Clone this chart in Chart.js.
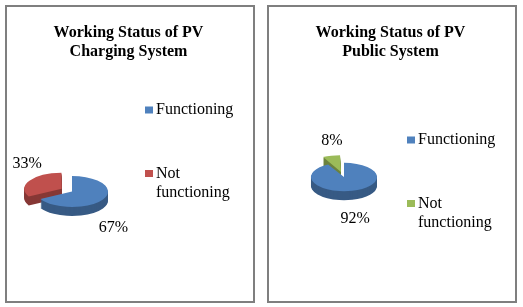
<!DOCTYPE html>
<html lang="en">
<head>
<meta charset="UTF-8">
<title>Working Status of PV Systems</title>
<script src="https://cdn.jsdelivr.net/npm/chart.js"></script>
<style>
    body {
        margin: 0;
        background: #fff;
    }
    .panel {
        position: absolute;
        top: 5px;
        width: 250px;
        height: 298px;
        border: 2px solid #7f7f7f;
        box-sizing: border-box;
    }
    #panel1 { left: 5px; }
    #panel2 { left: 267px; }
    canvas { display: block; }
</style>
</head>
<body>
<div class="panel" id="panel1"><canvas id="chargingChart" width="246" height="294"></canvas></div>
<div class="panel" id="panel2"><canvas id="publicChart" width="246" height="294"></canvas></div>

<script>
// data
const statusLabels = ['Functioning', 'Not functioning'];

const chargingTitle = ['Working Status of PV', 'Charging System'];
const chargingValues = [67, 33];

const publicTitle = ['Working Status of PV', 'Public System'];
const publicValues = [92, 8];

const SERIF = '"Liberation Serif", "Times New Roman", serif';

// squash the pie vertically around its centre
function tilt(ctx, cx, cy, k) {
    ctx.translate(cx, cy);
    ctx.scale(1, k);
    ctx.translate(-cx, -cy);
}

// fake 3D: stacked darker copies under the pie, then the pie itself squashed
const tiltPlugin = {
    id: 'tilt3d',
    beforeDatasetsDraw(chart, args, opts) {
        const ctx = chart.ctx;
        const arcs = chart.getDatasetMeta(0).data;
        const cx = arcs[0].x, cy = arcs[0].y;
        for (let d = opts.depth; d > 0; d--) {
            ctx.save();
            ctx.filter = 'brightness(' + opts.shade + ')';
            ctx.translate(0, d);
            tilt(ctx, cx, cy, opts.ratio);
            arcs.forEach(a => a.draw(ctx));
            ctx.restore();
        }
        ctx.save();
        tilt(ctx, cx, cy, opts.ratio);
    },
    afterDatasetsDraw(chart) {
        chart.ctx.restore();
    }
};

function wrapWords(ctx, text, maxW) {
    const words = text.split(' ');
    const lines = [];
    let line = '';
    words.forEach(w => {
        const test = line ? line + ' ' + w : w;
        if (line && ctx.measureText(test).width > maxW) {
            lines.push(line);
            line = w;
        } else {
            line = test;
        }
    });
    lines.push(line);
    return lines;
}

// title, legend and percent labels
const textPlugin = {
    id: 'panelText',
    afterDraw(chart, args, opts) {
        const ctx = chart.ctx;
        const ds = chart.data.datasets[0];
        const arcs = chart.getDatasetMeta(0).data;
        const tilt3d = chart.options.plugins.tilt3d;
        ctx.save();
        ctx.fillStyle = '#000';
        ctx.textBaseline = 'middle';

        // title
        ctx.font = 'bold 16px ' + SERIF;
        ctx.textAlign = 'center';
        opts.title.forEach((t, i) => ctx.fillText(t, opts.titleX, opts.titleY + i * 19));

        // legend
        ctx.font = '16px ' + SERIF;
        ctx.textAlign = 'left';
        chart.data.labels.forEach((lab, i) => {
            const y = opts.legendY + i * opts.legendGap;
            ctx.fillStyle = ds.backgroundColor[i];
            ctx.fillRect(opts.legendX, y - 3.5, 8, 7);
            ctx.fillStyle = '#000';
            wrapWords(ctx, lab, 85).forEach((l, j) => ctx.fillText(l, opts.legendX + 11, y + j * 19));
        });

        // percent labels
        ctx.textAlign = 'center';
        const total = ds.data.reduce((s, v) => s + v, 0);
        arcs.forEach((a, i) => {
            const mid = (a.startAngle + a.endAngle) / 2;
            const dx = Math.cos(mid), dy = Math.sin(mid);
            const edge = a.outerRadius + (a.options.offset || 0) / 4;
            const up = dy < 0;
            const x = a.x + dx * (edge + (up ? 4 : 12));
            const y = a.y + dy * edge * tilt3d.ratio + (up ? -17 : tilt3d.depth + 19);
            ctx.fillText(Math.round(ds.data[i] / total * 100) + '%', x, y);
        });
        ctx.restore();
    }
};

function makePie(id, title, values, colors, offsets, radius, pad, legendY) {
    return new Chart(document.getElementById(id), {
        type: 'pie',
        data: {
            labels: statusLabels,
            datasets: [{
                data: values,
                backgroundColor: colors,
                borderWidth: 0,
                offset: offsets,
                radius: radius,
                clip: false
            }]
        },
        options: {
            responsive: false,
            animation: false,
            layout: { padding: pad },
            plugins: {
                legend: { display: false },
                title: { display: false },
                tooltip: { enabled: false },
                tilt3d: { ratio: 0.43, depth: 9, shade: 0.7 },
                panelText: {
                    title: title,
                    titleX: 121.5, titleY: 26,
                    legendX: 138, legendY: legendY, legendGap: 63.5
                }
            }
        },
        plugins: [tiltPlugin, textPlugin]
    });
}

makePie('chargingChart', chargingTitle, chargingValues,
    ['#4f81bd', '#c0504d'], [0, 48], 36,
    { left: 10, right: 126, top: 100, bottom: 25 }, 103);

makePie('publicChart', publicTitle, publicValues,
    ['#4f81bd', '#9bbb59'], [0, 48], 33,
    { left: 10, right: 106, top: 100, bottom: 54 }, 133);
</script>
</body>
</html>
